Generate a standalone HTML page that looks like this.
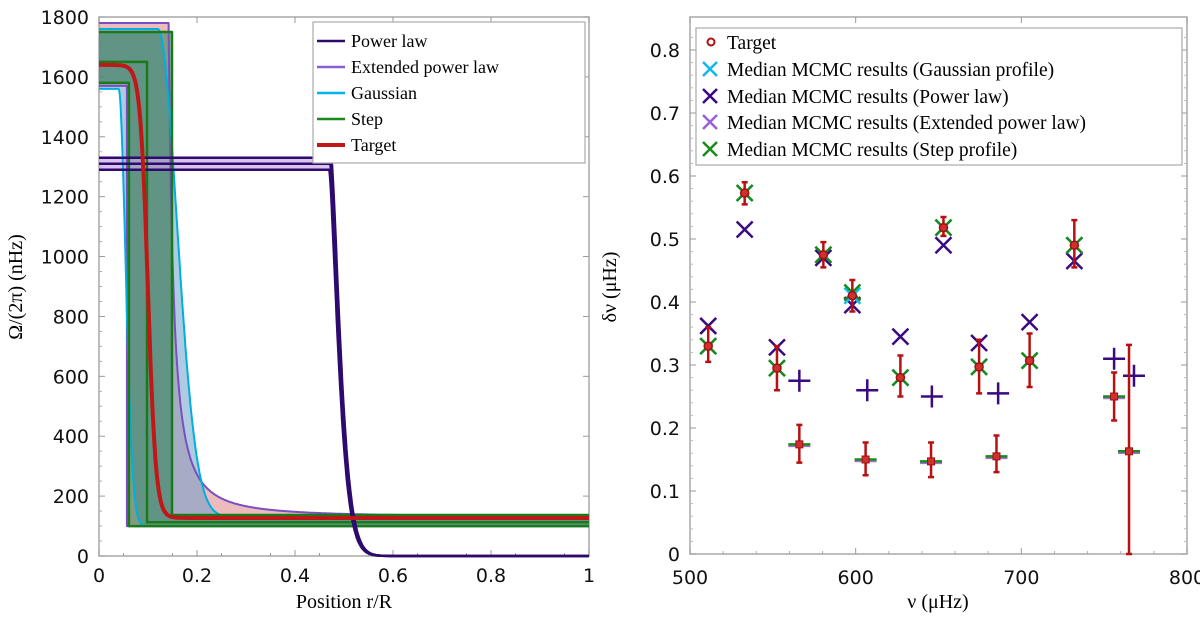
<!DOCTYPE html>
<html><head><meta charset="utf-8"><style>
body{margin:0;background:#fff;}
svg text{font-family:"Liberation Serif",serif;}
.tk{font-family:"DejaVu Sans","Liberation Sans",sans-serif;font-size:19px;fill:#111;}
</style></head><body>
<svg id="fig" width="1200" height="622" xmlns="http://www.w3.org/2000/svg">
<g id="leftg"></g>
<g id="rightg"></g>
</svg>
<script>
// ---------- Left chart data ----------
var rTicks=[0,0.2,0.4,0.6,0.8,1];
var rTickLabels=["0","0.2","0.4","0.6","0.8","1"];
var omegaTicks=[0,200,400,600,800,1000,1200,1400,1600,1800];
// profile parameters: [inner level, outer level, transition radius, width]
var powerLawLevels=[1290,1310,1330];
var powerLawCorner=[0.470,0.472,0.474];
var extPowerUpper=[1780,130,0.142,0.016];
var extPowerLower=[1570,100,0.057];
var gaussUpper=[1760,130,0.12,0.055];
var gaussLower=[1560,100,0.04,0.02];
var stepUpper=[1750,137,0.149];
var stepMid=[1650,113,0.098];
var stepLower=[1580,100,0.061];
var targetProfile=[1640,127,0.1,0.008];

// ---------- Right chart data ----------
var nuTicks=[500,600,700,800];
var dnuTicks=[0,0.1,0.2,0.3,0.4,0.5,0.6,0.7,0.8];
var nuCircle=[511,533,552.5,580.5,598,627,653,674.5,705,732];
var targetCircle=[0.33,0.573,0.295,0.475,0.41,0.28,0.518,0.297,0.307,0.49];
var errLowCircle=[0.305,0.555,0.26,0.455,0.385,0.25,0.505,0.255,0.265,0.455];
var errHighCircle=[0.36,0.59,0.33,0.495,0.435,0.315,0.535,0.34,0.35,0.53];
var powerCircle=[0.362,0.515,0.328,0.47,0.395,0.345,0.49,0.335,0.368,0.465];
var stepCircle=[0.33,0.573,0.295,0.475,0.415,0.28,0.518,0.297,0.307,0.49];
var nuSquare=[566,606,645.5,685,756,765];
var targetSquare=[0.174,0.15,0.147,0.155,0.25,0.163];
var errLowSquare=[0.145,0.125,0.122,0.13,0.212,0];
var errHighSquare=[0.205,0.177,0.177,0.188,0.288,0.332];
var powerSquare=[0.275,0.26,0.25,0.255,0.31,0.283];
var nuPowerSquare=[566,607,646,686,756,768];

var SVGNS="http://www.w3.org/2000/svg";
function mk(parent,tag,attrs,nm,txt){
  var el=document.createElementNS(SVGNS,tag);
  for(var k in attrs){el.setAttribute(k,String(attrs[k]));}
  
  
  if(txt!==undefined){el.textContent=txt;}
  parent.appendChild(el);
  return el;
}
function ptsStr(p){return p.map(function(q){return q[0].toFixed(1)+','+q[1].toFixed(1);}).join(' ');}

// ===== LEFT =====
var LG=document.getElementById('leftg');
function lx(r){return 99+r*490;}
function ly(v){return 556-v*(539/1800);}
function logistic(hi,lo,c,w){return function(r){return lo+(hi-lo)/(1+Math.exp((r-c)/w));};}
function stepF(hi,lo,c){return function(r){return r<c?hi:lo;};}
function gaussF(hi,lo,c,s){return function(r){return r<c?hi:lo+(hi-lo)*Math.exp(-Math.pow((r-c)/s,2));};}
function tailF(hi,lo,c,s){return function(r){return r<c?hi:lo+(hi-lo)*Math.pow(1+(r-c)/s,-1.6);};}
function dropF(hi,c){return function(r){return r<c?hi:hi*Math.exp(-Math.pow((r-c)/0.0255,1.41));};}
var RR=[];for(var i=0;i<=1000;i++){RR.push(i/1000);}
function curvePts(f){return RR.map(function(r){return [lx(r),ly(f(r))];});}
function stepPts(a){return [[lx(0),ly(a[0])],[lx(a[2]),ly(a[0])],[lx(a[2]),ly(a[1])],[lx(1),ly(a[1])]];}
function drawLine(p,col,w,nm){mk(LG,'polyline',{points:ptsStr(p),fill:'none',stroke:col,'stroke-width':w,'stroke-linejoin':'round'},nm);}
function band(up,lo,col,nm){mk(LG,'polygon',{points:ptsStr(up.concat(lo.slice().reverse())),fill:col,stroke:'none'},nm);}

try{
mk(LG,'rect',{x:99,y:17,width:490,height:539,fill:'none',stroke:'#a8a8a8','stroke-width':1.5},'left-plot-frame');
rTicks.forEach(function(t,i){
  mk(LG,'line',{x1:lx(t),y1:556,x2:lx(t),y2:550,stroke:'#999'},'x-tick');
  mk(LG,'line',{x1:lx(t),y1:17,x2:lx(t),y2:23,stroke:'#999'},'x-tick-top');
  mk(LG,'text',{x:lx(t),y:582,'text-anchor':'middle','class':'tk'},'x-tick-label',rTickLabels[i]);
});
for(var t=0.05;t<1;t+=0.1){mk(LG,'line',{x1:lx(t),y1:556,x2:lx(t),y2:553,stroke:'#999'},'x-minor-tick');}
omegaTicks.forEach(function(t){
  mk(LG,'line',{x1:99,y1:ly(t),x2:105,y2:ly(t),stroke:'#999'},'y-tick');
  mk(LG,'line',{x1:589,y1:ly(t),x2:583,y2:ly(t),stroke:'#999'},'y-tick-right');
  mk(LG,'text',{x:89,y:ly(t)+7,'text-anchor':'end','class':'tk'},'y-tick-label',String(t));
});
for(var t2=50;t2<1800;t2+=50){if(t2%200){mk(LG,'line',{x1:99,y1:ly(t2),x2:102,y2:ly(t2),stroke:'#aaa'},'y-minor-tick');}}
mk(LG,'text',{x:344,y:608,'text-anchor':'middle','font-size':20},'x-axis-title','Position r/R');
mk(LG,'text',{x:22,y:287,'text-anchor':'middle','font-size':20,transform:'rotate(-90 22 287)'},'y-axis-title','Ω/(2π) (nHz)');

var extUp=curvePts(tailF(extPowerUpper[0],extPowerUpper[1],extPowerUpper[2],extPowerUpper[3]));
var extLo=stepPts(extPowerLower);
band(extUp,curvePts(stepF(extPowerLower[0],extPowerLower[1],extPowerLower[2])),'rgba(215,120,125,0.5)','extended-power-law-band');
var gUp=curvePts(gaussF(gaussUpper[0],gaussUpper[1],gaussUpper[2],gaussUpper[3]));
var gLo=curvePts(gaussF(gaussLower[0],gaussLower[1],gaussLower[2],gaussLower[3]));
band(gUp,gLo,'rgba(110,160,200,0.55)','gaussian-band');
band(curvePts(stepF(stepUpper[0],stepUpper[1],stepUpper[2])),curvePts(stepF(stepLower[0],stepLower[1],stepLower[2])),'rgba(40,130,80,0.55)','step-band');
var plUp=curvePts(dropF(powerLawLevels[2],powerLawCorner[2]));
var plLo=curvePts(dropF(powerLawLevels[0],powerLawCorner[0]));
band(plUp,plLo,'rgba(200,170,230,0.7)','power-law-band');

drawLine(extUp,'#7a4fc0',2,'extended-power-law-upper');
drawLine(extLo,'#7a4fc0',2,'extended-power-law-lower');
drawLine(gUp,'#00aee0',2,'gaussian-upper');
drawLine(gLo,'#00aee0',2,'gaussian-lower');
drawLine(stepPts(stepUpper),'#1a7a1a',2.5,'step-upper');
drawLine(stepPts(stepMid),'#1a7a1a',2.5,'step-median');
drawLine(stepPts(stepLower),'#1a7a1a',2.5,'step-lower');
powerLawLevels.forEach(function(v,i){drawLine(curvePts(dropF(v,powerLawCorner[i])),'#2e0a6e',2.5,'power-law-line');});
drawLine(curvePts(logistic(targetProfile[0],targetProfile[1],targetProfile[2],targetProfile[3])),'#c01818',4,'target-line');

mk(LG,'rect',{x:313,y:22,width:272,height:141,fill:'#fff',stroke:'#aaa','stroke-width':1.2},'left-legend');
[['Power law','#2e0a6e',2.5],['Extended power law','#8a5fd0',2.5],['Gaussian','#00b4e6',2.5],['Step','#1a8a1a',2.5],['Target','#c01818',4]].forEach(function(e,i){
  var y=41+i*26;
  mk(LG,'line',{x1:317,y1:y,x2:345,y2:y,stroke:e[1],'stroke-width':e[2]},'legend-swatch');
  mk(LG,'text',{x:351,y:y+6,'font-size':18},'legend-entry',e[0]);
});
}catch(err){}

// ===== RIGHT =====
var RG=document.getElementById('rightg');
function nx(v){return 690+(v-500)*(497/300);}
function dy(v){return 554-v*630;}
function cross(x,y,col,s,nm){mk(RG,'path',{d:'M'+(x-s)+','+(y-s)+'L'+(x+s)+','+(y+s)+'M'+(x-s)+','+(y+s)+'L'+(x+s)+','+(y-s),stroke:col,'stroke-width':2.5,fill:'none'},nm);}
function plus(x,y,col,s,nm){mk(RG,'path',{d:'M'+(x-s)+','+y+'L'+(x+s)+','+y+'M'+x+','+(y-s)+'L'+x+','+(y+s),stroke:col,'stroke-width':2.5,fill:'none'},nm);}
function errbar(x,lo,hi,nm){mk(RG,'path',{d:'M'+x+','+dy(lo)+'L'+x+','+dy(hi)+'M'+(x-3)+','+dy(lo)+'L'+(x+3)+','+dy(lo)+'M'+(x-3)+','+dy(hi)+'L'+(x+3)+','+dy(hi),stroke:'#b81010','stroke-width':2.5,fill:'none'},nm);}

try{
mk(RG,'rect',{x:690,y:17,width:497,height:537,fill:'none',stroke:'#a8a8a8','stroke-width':1.5},'right-plot-frame');
nuTicks.forEach(function(t){
  mk(RG,'line',{x1:nx(t),y1:554,x2:nx(t),y2:548,stroke:'#999'},'x-tick');
  mk(RG,'line',{x1:nx(t),y1:17,x2:nx(t),y2:23,stroke:'#999'},'x-tick-top');
  mk(RG,'text',{x:nx(t),y:584,'text-anchor':'middle','class':'tk'},'x-tick-label',String(t));
});
for(var u=520;u<800;u+=20){if(u%100){mk(RG,'line',{x1:nx(u),y1:554,x2:nx(u),y2:551,stroke:'#aaa'},'x-minor-tick');}}
dnuTicks.forEach(function(t){
  mk(RG,'line',{x1:690,y1:dy(t),x2:696,y2:dy(t),stroke:'#999'},'y-tick');
  mk(RG,'line',{x1:1187,y1:dy(t),x2:1181,y2:dy(t),stroke:'#999'},'y-tick-right');
  mk(RG,'text',{x:680,y:dy(t)+7,'text-anchor':'end','class':'tk'},'y-tick-label',t===0?'0':t.toFixed(1));
});
for(var k2=1;k2<42;k2++){if(k2%5){var tv=k2*0.02;
  mk(RG,'line',{x1:690,y1:dy(tv),x2:693,y2:dy(tv),stroke:'#bbb'},'y-minor-tick');
  mk(RG,'line',{x1:1187,y1:dy(tv),x2:1184,y2:dy(tv),stroke:'#bbb'},'y-minor-tick');}}
mk(RG,'text',{x:938,y:608,'text-anchor':'middle','font-size':20},'x-axis-title','ν (μHz)');
mk(RG,'text',{x:616,y:287,'text-anchor':'middle','font-size':20,transform:'rotate(-90 616 287)'},'y-axis-title','δν (μHz)');

nuCircle.forEach(function(n,i){var x=nx(n);
  cross(x,dy(powerCircle[i]),'#3a0a80',8,'power-law-median-marker');
  cross(x,dy(targetCircle[i]),'#10c0e8',8,'gaussian-median-marker');
  cross(x,dy(stepCircle[i]),'#1a8a1a',8,'step-median-marker');
  errbar(x,errLowCircle[i],errHighCircle[i],'target-error-bar');
  mk(RG,'circle',{cx:x,cy:dy(targetCircle[i]),r:4,fill:'#d03030',stroke:'#a01010','stroke-width':1.5},'target-marker');
});
nuSquare.forEach(function(n,i){var x=nx(n);
  plus(nx(nuPowerSquare[i]),dy(powerSquare[i]),'#3a0a80',11,'power-law-median-marker');
  mk(RG,'line',{x1:x-11,y1:dy(targetSquare[i])+1.5,x2:x+11,y2:dy(targetSquare[i])+1.5,stroke:'#a070d8','stroke-width':2.5},'ext-power-median-marker');
  mk(RG,'line',{x1:x-11,y1:dy(targetSquare[i]),x2:x+11,y2:dy(targetSquare[i]),stroke:'#1a8a1a','stroke-width':2.5},'step-median-marker');
  errbar(x,errLowSquare[i],errHighSquare[i],'target-error-bar');
  mk(RG,'rect',{x:x-3.5,y:dy(targetSquare[i])-3.5,width:7,height:7,fill:'#d03030',stroke:'#a01010','stroke-width':1},'target-marker');
});
mk(RG,'rect',{x:696,y:28,width:486,height:137,fill:'#fff',stroke:'#aaa','stroke-width':1.2},'right-legend');
var legY=[42,69,96,122,149];
mk(RG,'circle',{cx:711,cy:legY[0],r:3.5,fill:'none',stroke:'#b01010','stroke-width':2},'legend-target-marker');
mk(RG,'text',{x:727,y:legY[0]+7,'font-size':19.5},'legend-entry','Target');
[['Gaussian profile','#10b8f0'],['Power law','#3a0a80'],['Extended power law','#9a60d8'],['Step profile','#1a8a1a']].forEach(function(e,i){
  cross(710,legY[i+1],e[1],7,'legend-marker');
  mk(RG,'text',{x:727,y:legY[i+1]+7,'font-size':19.5},'legend-entry','Median MCMC results ('+e[0]+')');
});
}catch(err){}
</script>
</body></html>
